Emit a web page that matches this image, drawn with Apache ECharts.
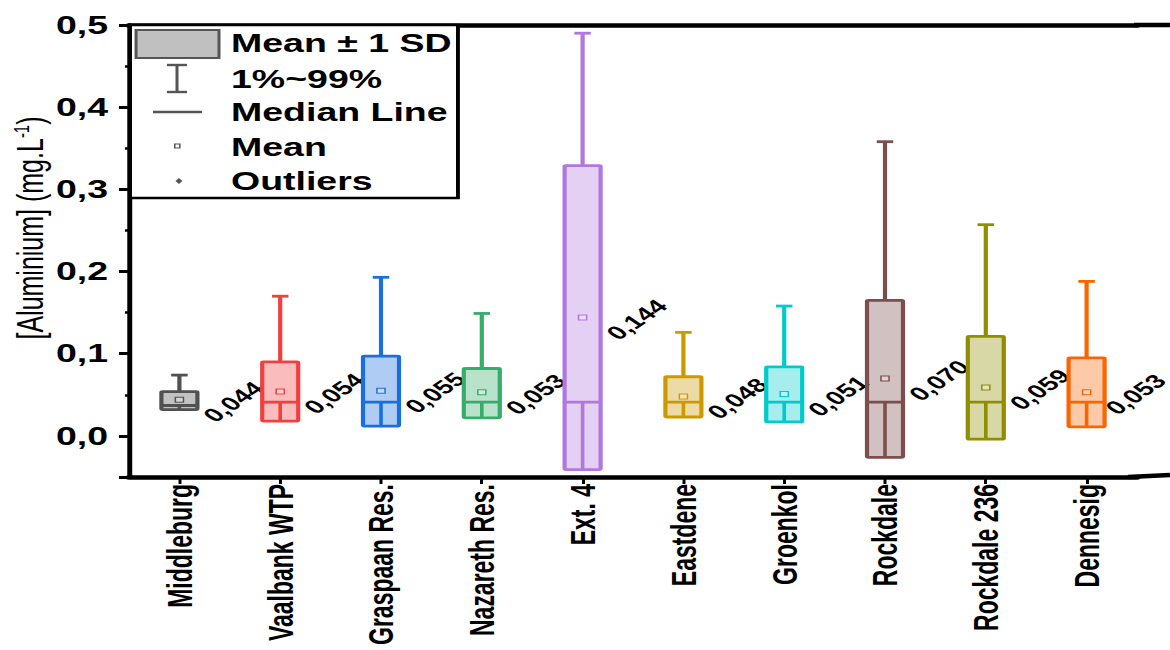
<!DOCTYPE html>
<html>
<head>
<meta charset="utf-8">
<script src="https://cdn.jsdelivr.net/npm/echarts@6/dist/echarts.min.js"></script>
<style>
html,body{margin:0;padding:0;background:#fff;overflow:hidden;}
#c{width:780px;height:650px;transform:scaleX(1.5);transform-origin:0 0;}
</style>
</head>
<body>
<div id="c"></div>
<script>
// ---- data ----
var categories = ['Middleburg','Vaalbank WTP','Graspaan Res.','Nazareth Res.','Ext. 4','Eastdene','Groenkol','Rockdale','Rockdale 236','Dennesig'];
var sdLow  = [0.032, 0.018, 0.012, 0.022, -0.041, 0.023, 0.017, -0.026, -0.004, 0.011];
var sdHigh = [0.054, 0.090, 0.097, 0.082, 0.329, 0.072, 0.084, 0.165, 0.121, 0.095];
var p99    = [0.074, 0.170, 0.193, 0.149, 0.490, 0.126, 0.158, 0.358, 0.257, 0.188];
var median = [0.037, 0.041, 0.041, 0.041, 0.041, 0.041, 0.041, 0.041, 0.041, 0.041];
var means  = [0.044, 0.054, 0.055, 0.053, 0.144, 0.048, 0.051, 0.070, 0.059, 0.053];
var yTicks = [0, 0.1, 0.2, 0.3, 0.4, 0.5];
var colors = ['#515151','#F14040','#1A6FDF','#37AD6B','#B177DE','#CC9900','#00CBCC','#7D4E4E','#8E8E00','#FB6501'];

var FONT = '"Liberation Sans", Arial, sans-serif';
function hexA(h, a){
  var r=parseInt(h.substr(1,2),16), g=parseInt(h.substr(3,2),16), b=parseInt(h.substr(5,2),16);
  return 'rgba('+r+','+g+','+b+','+a+')';
}
var boxData = categories.map(function(c,i){ return [i, sdLow[i], sdHigh[i], p99[i], median[i], means[i]]; });

var chart = echarts.init(document.getElementById('c'), null, {renderer:'svg'});

function renderBox(params, api){
  var i = api.value(0);
  var col = colors[i];
  var lo = api.coord([i, api.value(1)]);
  var hi = api.coord([i, api.value(2)]);
  var top = api.coord([i, api.value(3)]);
  var med = api.coord([i, api.value(4)]);
  var mn = api.coord([i, api.value(5)]);
  var cx = lo[0], hw = 12, cap = 5.5, lw = 2.8;
  var lbl = api.value(5).toFixed(3).replace('.', ',');
  var lx = Math.min(cx + 36, api.getWidth() - 23);
  return {type:'group', children:[
    {type:'line', shape:{x1:cx,y1:hi[1],x2:cx,y2:top[1]}, style:{stroke:col,lineWidth:lw}},
    {type:'line', shape:{x1:cx-cap,y1:top[1],x2:cx+cap,y2:top[1]}, style:{stroke:col,lineWidth:lw}},
    {type:'rect', shape:{x:cx-hw,y:hi[1],width:hw*2,height:lo[1]-hi[1],r:1}, style:{fill:hexA(col,0.35),stroke:col,lineWidth:lw}},
    {type:'line', shape:{x1:cx-hw,y1:med[1],x2:cx+hw,y2:med[1]}, style:{stroke:col,lineWidth:lw}},
    {type:'line', shape:{x1:cx,y1:med[1],x2:cx,y2:lo[1]}, style:{stroke:col,lineWidth:2.4}},
    {type:'rect', shape:{x:cx-2.7,y:mn[1]-2.5,width:5.4,height:5}, style:{fill:'rgba(255,255,255,0.3)',stroke:col,lineWidth:1}},
    {type:'text', x:lx, y:mn[1]+2, rotation:Math.PI/4,
      style:{text:lbl, fill:'#000', font:'bold 19px '+FONT, align:'center', verticalAlign:'middle'}}
  ]};
}

var legendX = 86.7, legendY = 25;
var legendItems = [
  {type:'rect', shape:{x:legendX,y:legendY,width:218.6,height:173}, style:{fill:'#fff',stroke:'#000',lineWidth:2.6}},
  {type:'rect', shape:{x:90.7,y:30,width:55.3,height:28}, style:{fill:'#c0c0c0',stroke:'#555',lineWidth:2}},
  {type:'line', shape:{x1:118,y1:65,x2:118,y2:92}, style:{stroke:'#555',lineWidth:2}},
  {type:'line', shape:{x1:111.3,y1:65,x2:124.7,y2:65}, style:{stroke:'#555',lineWidth:2.4}},
  {type:'line', shape:{x1:111.3,y1:92,x2:124.7,y2:92}, style:{stroke:'#555',lineWidth:2.4}},
  {type:'line', shape:{x1:102,y1:112,x2:134.7,y2:112}, style:{stroke:'#555',lineWidth:2.4}},
  {type:'rect', shape:{x:116.5,y:144,width:3.4,height:4}, style:{fill:'#fff',stroke:'#555',lineWidth:1}},
  {type:'polygon', shape:{points:[[119.3,178],[121.6,181],[119.3,184],[117,181]]}, style:{fill:'#555'}},
  {type:'text', x:154, y:43, style:{text:'Mean ± 1 SD', font:'bold 25px '+FONT, fill:'#000', verticalAlign:'middle'}},
  {type:'text', x:154, y:79, style:{text:'1%~99%', font:'bold 25px '+FONT, fill:'#000', verticalAlign:'middle'}},
  {type:'text', x:154, y:112, style:{text:'Median Line', font:'bold 25px '+FONT, fill:'#000', verticalAlign:'middle'}},
  {type:'text', x:154, y:147, style:{text:'Mean', font:'bold 25px '+FONT, fill:'#000', verticalAlign:'middle'}},
  {type:'text', x:154, y:181, style:{text:'Outliers', font:'bold 25px '+FONT, fill:'#000', verticalAlign:'middle'}}
];
legendItems.forEach(function(g){ g.z = 100; });

var option = {
  backgroundColor:'#fff',
  animation:false,
  grid:{left:86, right:22, top:25, bottom:173, containLabel:false, outerBoundsMode:'none'},
  xAxis:[{
    type:'category', data:categories, position:'bottom', boundaryGap:true,
    axisLine:{show:true, onZero:false, lineStyle:{color:'#000', width:4.5}},
    axisTick:{show:true, alignWithLabel:true, length:7, lineStyle:{color:'#000', width:2}},
    axisLabel:{rotate:90, margin:7, fontSize:23, fontWeight:'bold', color:'#000', fontFamily:FONT, interval:0},
    splitLine:{show:false}
  },{
    type:'category', data:categories, position:'top', boundaryGap:true,
    axisLine:{show:true, onZero:false, lineStyle:{color:'#000', width:4.5}},
    axisTick:{show:false}, axisLabel:{show:false}, splitLine:{show:false}
  }],
  yAxis:[{
    type:'value', min:-0.05, max:0.5, splitNumber:5,
    axisLine:{show:true, onZero:false, lineStyle:{color:'#000', width:3.3}},
    axisTick:{show:true, length:6.7, lineStyle:{color:'#000', width:3}},
    splitLine:{show:false},
    axisLabel:{margin:14, fontSize:25, fontWeight:'bold', color:'#000', fontFamily:FONT,
      formatter:function(v){
        for (var k=0;k<yTicks.length;k++){ if (Math.abs(v-yTicks[k])<1e-6) return yTicks[k].toFixed(1).replace('.', ','); }
        return '';
      }}
  },{
    type:'value', min:-0.05, max:0.5, interval:0.05, position:'left', offset:0,
    axisLine:{show:false, onZero:false},
    axisTick:{show:true, length:2.7, lineStyle:{color:'#000', width:2.5}},
    axisLabel:{show:false}, splitLine:{show:false}
  }],
  series:[{
    type:'custom', renderItem:renderBox, data:boxData, clip:false,
    encode:{x:0, y:[1,2,3]}
  }],
  graphic:[
    {type:'line', shape:{x1:756,y1:25,x2:780,y2:25}, style:{stroke:'#000',lineWidth:4.5}},
    {type:'line', shape:{x1:752,y1:477,x2:780,y2:475}, style:{stroke:'#000',lineWidth:4.5}},
    {type:'text', x:20, y:228, rotation:Math.PI/2,
      style:{text:'{a|[Aluminium] (mg.L}{s|-1}{a|)}', align:'center', verticalAlign:'middle',
        rich:{a:{font:'25px '+FONT, fill:'#000'}, s:{font:'15px '+FONT, fill:'#000', padding:[0,0,12,0]}}}}
  ].concat(legendItems)
};
chart.setOption(option);
</script>
</body>
</html>
